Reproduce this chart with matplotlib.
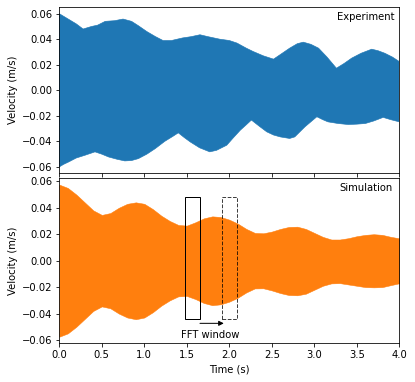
import matplotlib
matplotlib.use("Agg")
import matplotlib.pyplot as plt
import numpy as np
from matplotlib.patches import Rectangle

# Experiment envelope (upper / lower)
exp_t_up = [0.0, 0.1, 0.2, 0.28, 0.38, 0.45, 0.54, 0.65, 0.75, 0.85, 0.93, 1.03, 1.13, 1.22,
            1.32, 1.45, 1.55, 1.655, 1.75, 1.89, 2.0, 2.09, 2.2, 2.28, 2.4, 2.52, 2.6, 2.71,
            2.8, 2.87, 2.96, 3.05, 3.15, 3.26, 3.35, 3.44, 3.55, 3.675, 3.75, 3.83, 3.92, 4.0]
exp_up = [0.060, 0.056, 0.052, 0.048, 0.050, 0.051, 0.054, 0.0545, 0.0558, 0.054, 0.0506,
          0.046, 0.0421, 0.039, 0.039, 0.041, 0.042, 0.0435, 0.042, 0.040, 0.039, 0.037,
          0.033, 0.0304, 0.027, 0.0244, 0.028, 0.033, 0.0365, 0.0377, 0.036, 0.033, 0.026,
          0.0173, 0.021, 0.0252, 0.029, 0.0322, 0.031, 0.029, 0.026, 0.0225]
exp_t_lo = [0.0, 0.05, 0.11, 0.2, 0.30, 0.42, 0.5, 0.58, 0.68, 0.77, 0.85, 0.93, 1.03, 1.13,
            1.24, 1.34, 1.40, 1.47, 1.54, 1.65, 1.77, 1.85, 1.97, 2.05, 2.13, 2.20, 2.26,
            2.35, 2.44, 2.52, 2.60, 2.71, 2.77, 2.89, 3.03, 3.10, 3.16, 3.28, 3.40, 3.50,
            3.60, 3.70, 3.81, 3.90, 4.0]
exp_lo = [-0.060, -0.058, -0.0561, -0.053, -0.0509, -0.0482, -0.050, -0.0522, -0.054,
          -0.0553, -0.055, -0.0535, -0.050, -0.0456, -0.040, -0.0359, -0.0333, -0.037,
          -0.0404, -0.045, -0.0482, -0.047, -0.043, -0.037, -0.0312, -0.027, -0.0233,
          -0.028, -0.0325, -0.035, -0.0365, -0.0377, -0.0365, -0.0286, -0.0207, -0.023,
          -0.0247, -0.026, -0.0268, -0.0265, -0.026, -0.024, -0.0212, -0.023, -0.0247]

# Simulation envelope
sim_t = [0.0, 0.1, 0.2, 0.3, 0.4, 0.5, 0.6, 0.7, 0.8, 0.9, 1.0, 1.1, 1.2, 1.3, 1.4, 1.5,
         1.6, 1.7, 1.8, 1.9, 2.0, 2.1, 2.2, 2.3, 2.4, 2.5, 2.6, 2.7, 2.8, 2.9, 3.0, 3.1,
         3.2, 3.3, 3.4, 3.5, 3.6, 3.7, 3.8, 3.9, 4.0]
sim_up = [0.0575, 0.055, 0.050, 0.044, 0.038, 0.0346, 0.036, 0.040, 0.043, 0.0441, 0.043,
          0.039, 0.034, 0.030, 0.027, 0.0265, 0.029, 0.032, 0.0335, 0.033, 0.031, 0.028,
          0.024, 0.021, 0.0207, 0.022, 0.024, 0.0255, 0.0257, 0.024, 0.021, 0.018, 0.016,
          0.0160, 0.017, 0.0185, 0.0195, 0.020, 0.0195, 0.018, 0.0169]
sim_lo = [-0.0575, -0.055, -0.050, -0.044, -0.038, -0.0346, -0.036, -0.040, -0.043, -0.0443,
          -0.043, -0.039, -0.034, -0.030, -0.027, -0.0267, -0.029, -0.032, -0.0337, -0.033,
          -0.031, -0.028, -0.024, -0.021, -0.0209, -0.0225, -0.0245, -0.026, -0.0262, -0.025,
          -0.022, -0.019, -0.0172, -0.0170, -0.018, -0.019, -0.020, -0.0202, -0.020, -0.0185,
          -0.0171]

# FFT windows (time start, time end, velocity bottom, velocity top)
win1 = (1.48, 1.66, -0.0441, 0.048)
win2 = (1.91, 2.09, -0.0441, 0.048)
arrow_t = (1.655, 1.935)
arrow_v = -0.0474
xticks = [0.0, 0.5, 1.0, 1.5, 2.0, 2.5, 3.0, 3.5, 4.0]
yticks = [-0.06, -0.04, -0.02, 0.0, 0.02, 0.04, 0.06]

fig = plt.figure(figsize=(415 / 72, 382 / 72), dpi=72)
ax1 = fig.add_axes([0.1429, 0.5463, 0.8193, 0.4346])
ax2 = fig.add_axes([0.1429, 0.1013, 0.8193, 0.4327], sharex=ax1)

ax1.fill(list(exp_t_up) + list(exp_t_lo[::-1]), list(exp_up) + list(exp_lo[::-1]),
         color="#1f77b4", lw=0.6, ec="#1f77b4")
ax2.fill_between(sim_t, sim_lo, sim_up, color="#ff7f0e", lw=0.5, ec="#ff7f0e")

ax1.set_ylim(-0.065, 0.065)
ax2.set_ylim(-0.0625, 0.0625)
ax2.set_xlim(0, 4)
ax2.set_xticks(xticks)
ax1.set_yticks(yticks)
ax2.set_yticks(yticks)
ax1.tick_params(labelbottom=False)
ax1.set_ylabel("Velocity (m/s)")
ax2.set_ylabel("Velocity (m/s)")
ax2.set_xlabel("Time (s)")

ax1.text(0.985, 0.97, "Experiment", transform=ax1.transAxes, ha="right", va="top")
ax2.text(0.98, 0.97, "Simulation", transform=ax2.transAxes, ha="right", va="top")

ax2.add_patch(Rectangle((win1[0], win1[2]), win1[1] - win1[0], win1[3] - win1[2],
                        fill=False, ec="k", lw=1))
ax2.add_patch(Rectangle((win2[0], win2[2]), win2[1] - win2[0], win2[3] - win2[2],
                        fill=False, ec="k", lw=1, ls="--", alpha=0.75))
ax2.annotate("", xy=(arrow_t[1], arrow_v), xytext=(arrow_t[0], arrow_v),
             arrowprops=dict(arrowstyle="-|>", color="k", lw=1, shrinkA=0, shrinkB=0))
ax2.text((win1[0] + win2[1]) / 2 - 0.01, -0.0565, "FFT window", ha="center", va="center")

fig.savefig("out.png", dpi=72)
